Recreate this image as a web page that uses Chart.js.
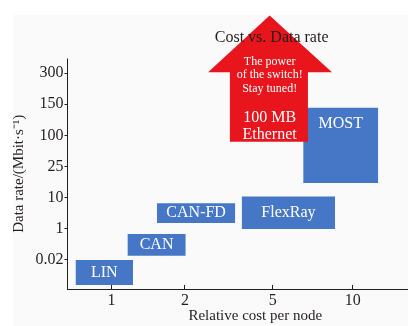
<!DOCTYPE html>
<html>
<head>
<meta charset="utf-8">
<script src="https://cdn.jsdelivr.net/npm/chart.js@4.4.1/dist/chart.umd.min.js"></script>
<style>
  html, body { margin: 0; padding: 0; background: #fff; overflow: hidden; }
  #wrap { position: relative; width: 408px; height: 326px; overflow: hidden; }
  #paper { position: absolute; left: 13px; top: 15px; right: 0; bottom: 0; background: #fafafa; }
  #chart { position: absolute; left: 0; top: 0; }
</style>
</head>
<body>
<div id="wrap">
  <div id="paper"></div>
  <canvas id="chart" width="446" height="326"></canvas>
</div>
<script>
// tick labels; the axes are not to scale, so ticks sit at "slot" positions
const costTicks = ["1", "2", "5", "10"];
const costTickPos = [1, 1.92, 3.02, 4.02];
const rateTicks = ["0.02", "1", "10", "25", "100", "150", "300"];
const rateTickPos = [1, 2, 3, 4, 5, 6, 7];
const rateAxisTop = 7.47;   // where the drawn y axis stops; the arrow pokes out above it

// the buses, as boxes: cost span (x) and data-rate span (y), in slot units
const buses = ["LIN", "CAN", "CAN-FD", "FlexRay", "MOST"];
const costFrom = [0.55, 1.2, 1.57, 2.63, 3.4];
const costTo = [1.27, 1.93, 2.55, 3.8, 4.34];
const rateFrom = [0.19, 1.13, 2.18, 1.99, 3.47];
const rateTo = [0.99, 1.83, 2.82, 3.03, 5.89];

// the Ethernet arrow
const arrowHeadX = [2.21, 2.98, 3.76];
const arrowHeadY = [7.03, 8.85, 7.03];
const arrowStemX = [2.48, 3.46];
const arrowStemY = [4.79, 7.1];
const arrowText = ["The power", "of the switch!", "Stay tuned!", "100 MB", "Ethernet"];
const chartTitle = "Cost vs. Data rate";
const rateTitle = "Data rate/(Mbit·s⁻¹)";

const X_MIN = 0.45, X_MAX = 5.15, Y_MIN = 0.06, Y_MAX = 9.01;

const BLUE = "#4677c7";
const RED = "#e8151c";
const INK = "#231f20";
const SERIF = "'Liberation Serif', 'Times New Roman', serif";

function box(xs, top, bottom, color, order){
  return {
    data: xs.map(x => ({ x, y: top })),
    showLine: true,
    borderWidth: 0,
    borderColor: "transparent",
    backgroundColor: color,
    pointRadius: 0,
    fill: { value: bottom },
    order
  };
}

const datasets = [];
// y axis line, only up to the top tick area
datasets.push({
  data: [{ x: X_MIN, y: Y_MIN }, { x: X_MIN, y: rateAxisTop }],
  showLine: true, borderWidth: 1, borderColor: INK,
  pointRadius: 0, fill: false, clip: false, order: 0
});
// arrow on top of the boxes (lower order is drawn later)
datasets.push({
  data: arrowHeadX.map((x, i) => ({ x, y: arrowHeadY[i] })),
  showLine: true, borderWidth: 0, borderColor: "transparent",
  backgroundColor: RED, pointRadius: 0,
  fill: { value: arrowHeadY[0] }, order: 1
});
datasets.push(box(arrowStemX, arrowStemY[1], arrowStemY[0], RED, 1));
buses.forEach((b, i) => {
  datasets.push(box([costFrom[i], costTo[i]], rateTo[i], rateFrom[i], BLUE, 2));
});

// texts inside the boxes and the arrow, the title over the arrow, the y caption
const textPlugin = {
  id: "texts",
  afterDatasetsDraw(chart){
    const { ctx } = chart;
    const x = chart.scales.x, y = chart.scales.y;
    ctx.save();
    ctx.textAlign = "center";
    ctx.textBaseline = "middle";
    ctx.fillStyle = "#fff";
    ctx.font = `16px ${SERIF}`;
    buses.forEach((name, i) => {
      const cx = (x.getPixelForValue(costFrom[i]) + x.getPixelForValue(costTo[i])) / 2;
      const top = y.getPixelForValue(rateTo[i]);
      const mid = (top + y.getPixelForValue(rateFrom[i])) / 2;
      ctx.fillText(name, cx, Math.min(mid, top + 16));
    });

    const tipX = x.getPixelForValue(arrowHeadX[1]);
    const tipY = y.getPixelForValue(arrowHeadY[1]);
    const offs = [46, 59, 73, 102, 119];
    arrowText.forEach((t, i) => {
      ctx.font = `${i < 3 ? 12 : 16}px ${SERIF}`;
      ctx.fillText(t, tipX, tipY + offs[i]);
    });

    ctx.fillStyle = INK;
    ctx.font = `16px ${SERIF}`;
    ctx.fillText(chartTitle, tipX + 2, tipY + 22);

    // y caption, centred on the drawn part of the axis
    const cy = (y.getPixelForValue(Y_MIN) + y.getPixelForValue(rateAxisTop)) / 2;
    ctx.translate(19, cy);
    ctx.rotate(-Math.PI / 2);
    ctx.font = `15px ${SERIF}`;
    ctx.fillText(rateTitle, 0, 0);
    ctx.restore();
  }
};

new Chart(document.getElementById("chart"), {
  type: "scatter",
  data: { datasets },
  options: {
    responsive: false,
    animation: false,
    events: [],
    layout: { padding: { top: 10, left: 0, right: 3, bottom: 0 } },
    plugins: { legend: { display: false }, tooltip: { enabled: false } },
    scales: {
      x: {
        type: "linear",
        min: X_MIN,
        max: X_MAX,
        afterFit: s => { s.height = 37; },
        afterBuildTicks: s => { s.ticks = costTickPos.map(v => ({ value: v })); },
        border: { display: true, color: INK, width: 1 },
        grid: { display: true, drawOnChartArea: false, tickLength: -4, color: INK },
        ticks: {
          autoSkip: false,
          padding: 6,
          color: INK,
          font: { family: SERIF, size: 16 },
          callback: v => costTicks[costTickPos.indexOf(v)]
        },
        title: {
          display: true,
          text: "Relative cost per node",
          color: INK,
          font: { family: SERIF, size: 15 },
          padding: { top: 0, bottom: 1 }
        }
      },
      y: {
        type: "linear",
        min: Y_MIN,
        max: Y_MAX,
        afterFit: s => { s.width = 67.5; },
        afterBuildTicks: s => { s.ticks = rateTickPos.map(v => ({ value: v })); },
        border: { display: false },
        grid: { display: true, drawOnChartArea: false, tickLength: 3, color: INK },
        ticks: {
          autoSkip: false,
          padding: 1,
          color: INK,
          font: { family: SERIF, size: 16 },
          callback: v => rateTicks[rateTickPos.indexOf(v)]
        }
      }
    }
  },
  plugins: [textPlugin]
});
</script>
</body>
</html>
